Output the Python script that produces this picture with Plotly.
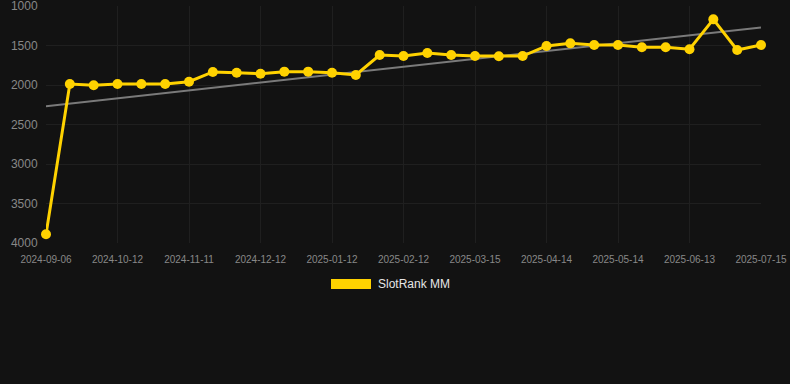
import numpy as np
import plotly.graph_objects as go

dates = [
    "2024-09-06", "2024-09-18", "2024-09-30", "2024-10-12", "2024-10-22", "2024-11-01",
    "2024-11-11", "2024-11-21", "2024-12-01", "2024-12-12", "2024-12-22", "2025-01-01",
    "2025-01-12", "2025-01-22", "2025-02-01", "2025-02-12", "2025-02-22", "2025-03-04",
    "2025-03-15", "2025-03-25", "2025-04-04", "2025-04-14", "2025-04-24", "2025-05-04",
    "2025-05-14", "2025-05-24", "2025-06-03", "2025-06-13", "2025-06-23", "2025-07-04",
    "2025-07-15",
]
rank = [
    3890, 1987, 2004, 1987, 1987, 1987,
    1958, 1835, 1844, 1857, 1831, 1831,
    1844, 1873, 1620, 1633, 1595, 1620,
    1633, 1637, 1633, 1506, 1473, 1494,
    1494, 1523, 1523, 1548, 1169, 1557,
    1494,
]
tick_dates = dates[::3]
y_ticks = [1000, 1500, 2000, 2500, 3000, 3500, 4000]
series_name = "SlotRank MM"

YELLOW = "#FFD200"
BG = "#121212"
GRID = "#1f1f1f"

# linear trend through the series
idx = np.arange(len(rank))
slope, intercept = np.polyfit(idx, rank, 1)
trend = slope * idx + intercept

fig = go.Figure()
fig.add_trace(go.Scatter(
    x=dates, y=trend, mode="lines",
    line=dict(color="#7a7a7a", width=2),
    hoverinfo="skip", showlegend=False, cliponaxis=False,
))
fig.add_trace(go.Scatter(
    x=dates, y=rank, mode="lines+markers", name=series_name,
    line=dict(color=YELLOW, width=3),
    marker=dict(color=YELLOW, size=10),
    showlegend=False, cliponaxis=False,
))

# legend drawn manually (wide rectangle swatch) below the plot area
PW, PH, PB = 715, 237, 243  # plot width, height, bottom pixel
fig.add_shape(type="rect", xref="paper", yref="paper",
              x0=(331 - 46) / PW, x1=(371 - 46) / PW,
              y0=(PB - 289) / PH, y1=(PB - 279) / PH,
              fillcolor=YELLOW, line=dict(width=0))
fig.add_annotation(text=series_name, xref="paper", yref="paper",
                   x=(376 - 46) / PW, y=(PB - 284) / PH,
                   xanchor="left", yanchor="middle", showarrow=False,
                   font=dict(color="#e6e6e6", size=12))

fig.update_layout(
    width=790, height=384,
    margin=dict(l=46, r=29, t=6, b=141, autoexpand=False),
    paper_bgcolor=BG, plot_bgcolor=BG,
    font=dict(family="Liberation Sans, Arial, sans-serif", color="#888888"),
    showlegend=False,
)
fig.update_xaxes(
    type="category", range=[0, len(dates) - 1],
    tickmode="array", tickvals=tick_dates, ticktext=tick_dates,
    tickfont=dict(size=10, color="#888888"),
    showgrid=True, gridcolor=GRID, gridwidth=1,
    zeroline=False, showline=False,
    ticks="outside", ticklen=7, tickcolor="rgba(0,0,0,0)",
    ticklabeloverflow="allow", automargin=False,
)
fig.update_yaxes(
    range=[4000, 1000], tickmode="array", tickvals=y_ticks,
    tickfont=dict(size=12, color="#888888"),
    showgrid=True, gridcolor=GRID, gridwidth=1,
    zeroline=False, showline=False,
    ticks="outside", ticklen=5, tickcolor="rgba(0,0,0,0)",
    ticklabeloverflow="allow", automargin=False,
)

fig.write_html("out.html", config={"displayModeBar": False},
               post_script="document.body.style.margin='0';")
